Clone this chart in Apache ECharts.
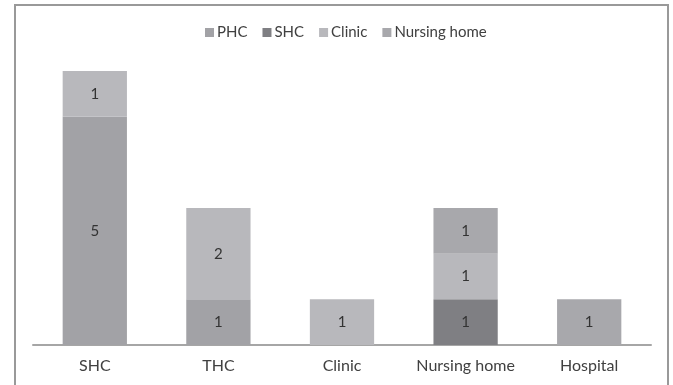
<!DOCTYPE html>
<html>
<head>
<meta charset="utf-8">
<script src="https://cdn.jsdelivr.net/npm/echarts@6/dist/echarts.min.js"></script>
<style>
  html, body { margin: 0; padding: 0; background: #fff; }
  #chart { width: 673px; height: 385px; }
</style>
</head>
<body>
<div id="chart"></div>
<script>
// Facility types on the x axis
const categories = ['SHC', 'THC', 'Clinic', 'Nursing home', 'Hospital'];
// Counts per series, stacked in this order
const phc = [5, 1, null, null, null];
const shc = [null, null, null, 1, null];
const clinic = [1, 2, 1, 1, null];
const nursingHome = [null, null, null, 1, 1];

const seriesNames = ['PHC', 'SHC', 'Clinic', 'Nursing home'];
const seriesData = [phc, shc, clinic, nursingHome];
const seriesColors = ['#a2a2a6', '#7f7f83', '#b8b8bc', '#a8a8ac'];

const fontFamily = 'Lato, "Open Sans", sans-serif';

const chart = echarts.init(document.getElementById('chart'));
chart.setOption({
  animation: false,
  backgroundColor: '#ffffff',
  graphic: [{
    type: 'rect',
    shape: { x: 15, y: 5, width: 653, height: 420 },
    style: { fill: 'none', stroke: '#999999', lineWidth: 2 },
    silent: true
  }],
  legend: {
    top: 20,
    left: 200,
    icon: 'rect',
    itemWidth: 9,
    itemHeight: 9,
    itemGap: 15,
    textStyle: { fontFamily, fontSize: 15, color: '#404040', padding: [0, 0, 0, -2] },
    data: seriesNames
  },
  grid: { left: 33, right: 22, top: 71, bottom: 40, containLabel: false },
  xAxis: {
    type: 'category',
    data: categories,
    axisLine: { lineStyle: { color: '#a6a6a6', width: 2 } },
    axisTick: { show: false },
    axisLabel: { interval: 0, fontFamily, fontSize: 16, color: '#404040', margin: 13 }
  },
  yAxis: {
    type: 'value',
    min: 0,
    max: 6,
    show: false,
    splitLine: { show: false }
  },
  series: seriesNames.map((name, i) => ({
    name,
    type: 'bar',
    stack: 'total',
    barWidth: '52%',
    data: seriesData[i],
    itemStyle: { color: seriesColors[i] },
    label: {
      show: true,
      position: 'inside',
      fontFamily,
      fontSize: 15,
      color: '#333333'
    }
  }))
});
</script>
</body>
</html>
